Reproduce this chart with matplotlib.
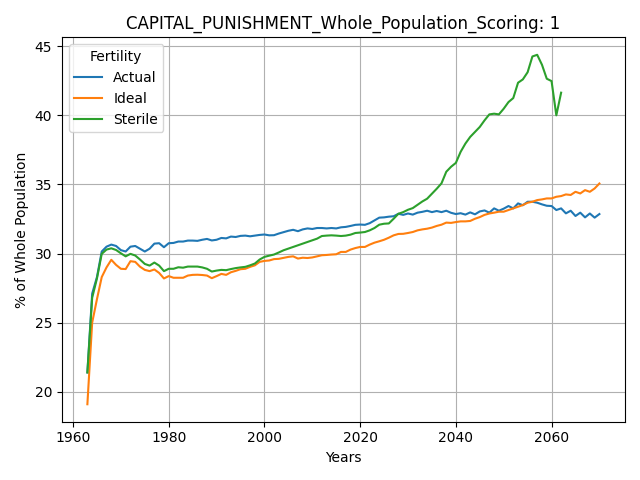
import matplotlib
matplotlib.use("Agg")
import matplotlib.pyplot as plt

# years for each series
years_full = list(range(1963, 2071))
years_sterile = list(range(1963, 2063))

# Actual, 1963-2070
actual = [
    21.4, 27.1, 28.3, 30.15, 30.5, 30.65, 30.55,                      # 1963-1969
    30.25, 30.15, 30.5, 30.55, 30.35, 30.15, 30.35, 30.72, 30.75, 30.46,  # 1970s
    30.75, 30.77, 30.87, 30.87, 30.94, 30.94, 30.92, 31.0, 31.06, 30.95,  # 1980s
    31.0, 31.13, 31.1, 31.23, 31.2, 31.28, 31.3, 31.25, 31.3, 31.35,      # 1990s
    31.38, 31.32, 31.33, 31.45, 31.55, 31.65, 31.72, 31.62, 31.75, 31.82,  # 2000s
    31.78, 31.85, 31.85, 31.82, 31.85, 31.82, 31.9, 31.93, 32.0, 32.08,    # 2010s
    32.1, 32.08, 32.2, 32.4, 32.6, 32.62, 32.67, 32.7, 32.88, 32.8,        # 2020s
    32.9, 32.82, 32.96, 33.02, 33.1, 33.0, 33.08, 33.0, 33.1, 32.95,       # 2030s
    32.86, 32.92, 32.82, 32.98, 32.84, 33.05, 33.12, 32.96, 33.27, 33.1,   # 2040s
    33.25, 33.44, 33.27, 33.63, 33.5, 33.75, 33.75, 33.68, 33.56, 33.46,   # 2050s
    33.44, 33.15, 33.27, 32.91, 33.1, 32.72, 32.96, 32.62, 32.9, 32.6,     # 2060s
    32.86,                                                                  # 2070
]

# Ideal, 1963-2070
ideal = [
    19.1, 25.0, 26.7, 28.3, 29.0, 29.55, 29.18,
    28.9, 28.88, 29.45, 29.4, 29.05, 28.82, 28.73, 28.85, 28.6, 28.2,
    28.37, 28.25, 28.25, 28.25, 28.41, 28.46, 28.47, 28.45, 28.41, 28.22,
    28.37, 28.53, 28.46, 28.65, 28.75, 28.87, 28.9, 29.04, 29.15, 29.4,
    29.47, 29.5, 29.6, 29.62, 29.69, 29.76, 29.8, 29.64, 29.7, 29.68,
    29.72, 29.8, 29.88, 29.9, 29.93, 29.95, 30.12, 30.12, 30.29, 30.4,
    30.48, 30.48, 30.65, 30.79, 30.89, 31.0, 31.15, 31.32, 31.42, 31.43,
    31.49, 31.56, 31.68, 31.75, 31.8, 31.88, 32.0, 32.09, 32.24, 32.22,
    32.28, 32.33, 32.33, 32.36, 32.52, 32.64, 32.8, 32.9, 32.96, 33.03,
    33.03, 33.15, 33.27, 33.39, 33.51, 33.68, 33.75, 33.87, 33.92, 33.99,
    33.99, 34.11, 34.16, 34.28, 34.24, 34.47, 34.35, 34.59, 34.47, 34.71,
    35.07,
]

# Sterile, 1963-2062
sterile = [
    21.4, 26.8, 28.2, 29.98, 30.29, 30.38, 30.26,
    30.02, 29.8, 29.98, 29.86, 29.57, 29.25, 29.13, 29.35, 29.13, 28.73,
    28.9, 28.9, 29.01, 28.98, 29.06, 29.06, 29.06, 29.0, 28.9, 28.7,
    28.77, 28.82, 28.8, 28.88, 28.95, 29.0, 29.04, 29.15, 29.28, 29.57,
    29.76, 29.85, 29.93, 30.08, 30.24, 30.36, 30.48, 30.6, 30.72, 30.84,
    30.96, 31.08, 31.27, 31.3, 31.32, 31.3, 31.27, 31.3, 31.37, 31.49,
    31.52, 31.56, 31.68, 31.85, 32.09, 32.16, 32.18, 32.52, 32.88, 33.0,
    33.17, 33.29, 33.53, 33.77, 33.97, 34.33, 34.69, 35.08, 35.92, 36.28,
    36.56, 37.36, 37.96, 38.44, 38.8, 39.16, 39.64, 40.07, 40.12, 40.07,
    40.48, 40.96, 41.25, 42.36, 42.6, 43.12, 44.26, 44.38, 43.66, 42.65,
    42.48, 40.0, 41.64,
]

fig, ax = plt.subplots(figsize=(6.4, 4.8), dpi=100)
ax.plot(years_full, actual, label='Actual')
ax.plot(years_full, ideal, label='Ideal')
ax.plot(years_sterile, sterile, label='Sterile')

ax.set_title('CAPITAL_PUNISHMENT_Whole_Population_Scoring: 1')
ax.set_xlabel('Years')
ax.set_ylabel('% of Whole Population')
ax.grid(True)
ax.legend(title='Fertility', loc='upper left')

fig.tight_layout()
fig.savefig('out.png')
